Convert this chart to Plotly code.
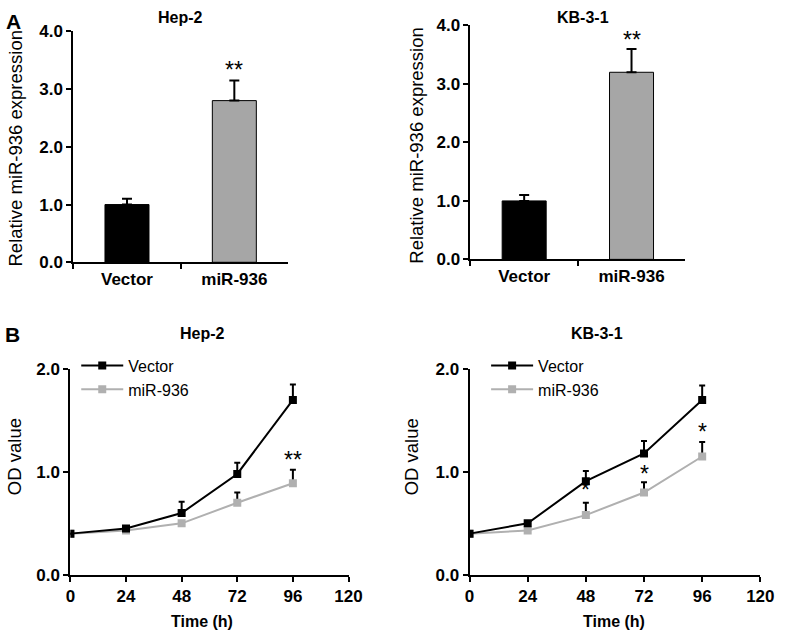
import plotly.graph_objects as go

W, H = 788, 643

# ---------------- data ----------------
groups = ["Vector", "miR-936"]
hep2_expr = [1.0, 2.8]
hep2_expr_err = [0.10, 0.35]
kb_expr = [1.0, 3.2]
kb_expr_err = [0.10, 0.40]

time_h = [0, 24, 48, 72, 96]
hep2_vec = [0.40, 0.45, 0.60, 0.98, 1.70]
hep2_vec_err = [0.0, 0.02, 0.11, 0.11, 0.15]
hep2_mir = [0.40, 0.43, 0.50, 0.70, 0.89]
hep2_mir_err = [0.0, 0.0, 0.0, 0.10, 0.13]
kb_vec = [0.40, 0.50, 0.91, 1.18, 1.70]
kb_vec_err = [0.0, 0.0, 0.10, 0.12, 0.14]
kb_mir = [0.40, 0.43, 0.58, 0.80, 1.15]
kb_mir_err = [0.0, 0.0, 0.12, 0.10, 0.14]

y_ticks_a = [0, 1, 2, 3, 4]
y_ticks_b = [0, 1, 2]
x_ticks_b = [0, 24, 48, 72, 96, 120]

# star annotations (x, y, text)
stars_a_hep2 = [("miR-936", 3.29, "**")]
stars_a_kb = [("miR-936", 3.72, "**")]
stars_b_hep2 = [(96, 1.10, "**")]
stars_b_kb = [(48, 0.80, "*"), (72, 0.96, "*"), (96, 1.37, "*")]

FONT = "Liberation Sans, Arial, sans-serif"
BLACK = "#000000"
GRAY = "#A6A6A6"
LGRAY = "#B0B0B0"


def px(x):
    return x / W


def py(y):
    return 1 - y / H


fig = go.Figure()

# ---------------- panel A ----------------
for i, (vals, errs) in enumerate([(hep2_expr, hep2_expr_err), (kb_expr, kb_expr_err)]):
    ax = "" if i == 0 else "2"
    fig.add_trace(go.Bar(
        x=groups, y=vals,
        marker=dict(color=[BLACK, GRAY], line=dict(color=BLACK, width=1)),
        width=0.41,
        error_y=dict(type="data", array=errs, arrayminus=[0] * len(errs), symmetric=False,
                     color=BLACK, thickness=2, width=5),
        xaxis="x" + ax, yaxis="y" + ax, showlegend=False,
    ))

# ---------------- panel B ----------------
panels_b = [
    (hep2_vec, hep2_vec_err, hep2_mir, hep2_mir_err, "3", "legend"),
    (kb_vec, kb_vec_err, kb_mir, kb_mir_err, "4", "legend2"),
]
for vec, vec_err, mir, mir_err, ax, lg in panels_b:
    fig.add_trace(go.Scatter(
        x=time_h, y=mir, mode="lines+markers", name="miR-936",
        line=dict(color=LGRAY, width=2),
        marker=dict(symbol="square", size=8, color=LGRAY),
        error_y=dict(type="data", array=mir_err, arrayminus=[0] * 5, symmetric=False,
                     color=BLACK, thickness=2, width=3),
        xaxis="x" + ax, yaxis="y" + ax, legend=lg, legendrank=2,
    ))
    fig.add_trace(go.Scatter(
        x=time_h, y=vec, mode="lines+markers", name="Vector",
        line=dict(color=BLACK, width=2),
        marker=dict(symbol="square", size=8, color=BLACK),
        error_y=dict(type="data", array=vec_err, arrayminus=[0] * 5, symmetric=False,
                     color=BLACK, thickness=2, width=3),
        xaxis="x" + ax, yaxis="y" + ax, legend=lg, legendrank=1,
    ))

tickfont = dict(family=FONT, size=17, color=BLACK, weight="bold")
common_axis = dict(showline=True, linewidth=2, linecolor=BLACK, ticks="outside",
                   ticklen=5, tickwidth=2, tickcolor=BLACK, showgrid=False,
                   zeroline=False, tickfont=tickfont, fixedrange=True)

layout_axes = {}
# A left
layout_axes["xaxis"] = dict(common_axis, domain=[px(70), px(290)], anchor="y",
                            tickson="boundaries", type="category")
layout_axes["yaxis"] = dict(common_axis, domain=[py(261), py(23)], anchor="x",
                            range=[0, 4], tickvals=y_ticks_a,
                            ticktext=[f"{v:.1f}" for v in y_ticks_a])
# A right
layout_axes["xaxis2"] = dict(common_axis, domain=[px(477), px(697)], anchor="y2",
                             tickson="boundaries", type="category")
layout_axes["yaxis2"] = dict(common_axis, domain=[py(258), py(17)], anchor="x2",
                             range=[0, 4], tickvals=y_ticks_a,
                             ticktext=[f"{v:.1f}" for v in y_ticks_a])
# B left
layout_axes["xaxis3"] = dict(common_axis, domain=[px(67), px(352)], anchor="y3",
                             range=[0, 120], tickvals=x_ticks_b)
layout_axes["yaxis3"] = dict(common_axis, domain=[py(583), py(371)], anchor="x3",
                             range=[0, 2], tickvals=y_ticks_b,
                             ticktext=[f"{v:.1f}" for v in y_ticks_b])
# B right
layout_axes["xaxis4"] = dict(common_axis, domain=[px(476), px(774)], anchor="y4",
                             range=[0, 120], tickvals=x_ticks_b)
layout_axes["yaxis4"] = dict(common_axis, domain=[py(583), py(371)], anchor="x4",
                             range=[0, 2], tickvals=y_ticks_b,
                             ticktext=[f"{v:.1f}" for v in y_ticks_b])

annotations = []


def text_ann(x, y, text, size=16, bold=False, angle=0):
    annotations.append(dict(
        x=px(x), y=py(y), xref="paper", yref="paper", text=text, showarrow=False,
        xanchor="center", yanchor="middle", textangle=angle,
        font=dict(family=FONT, size=size, color=BLACK, weight="bold" if bold else "normal"),
    ))


# panel letters
text_ann(9, 13, "A", size=21, bold=True)
text_ann(8, 335, "B", size=21, bold=True)
# titles
text_ann(180, 9, "Hep-2", size=16, bold=True)
text_ann(592, 9, "KB-3-1", size=16, bold=True)
text_ann(202, 334, "Hep-2", size=16, bold=True)
text_ann(607, 334, "KB-3-1", size=16, bold=True)
# axis titles
text_ann(11, 143, "Relative miR-936 expression", size=18.5, angle=-90)
text_ann(422, 140, "Relative miR-936 expression", size=18.5, angle=-90)
text_ann(10, 461, "OD value", size=18.5, angle=-90)
text_ann(416, 461, "OD value", size=18.5, angle=-90)
text_ann(202, 631, "Time (h)", size=16, bold=True)
text_ann(624, 631, "Time (h)", size=16, bold=True)

# significance stars
for stars, ax in [(stars_a_hep2, ""), (stars_a_kb, "2"), (stars_b_hep2, "3"), (stars_b_kb, "4")]:
    for x, y, t in stars:
        annotations.append(dict(
            x=x, y=y, xref="x" + ax, yref="y" + ax, text=t, showarrow=False,
            xanchor="center", yanchor="middle", yshift=2,
            font=dict(family=FONT, size=23, color=BLACK),
        ))

legend_common = dict(font=dict(family=FONT, size=16, color=BLACK), bgcolor="rgba(0,0,0,0)",
                     xanchor="left", yanchor="top", tracegroupgap=0, traceorder="normal",
                     itemwidth=42)

fig.update_layout(
    width=W, height=H,
    margin=dict(l=0, r=0, t=0, b=0),
    paper_bgcolor="white", plot_bgcolor="white",
    barmode="group",
    annotations=annotations,
    legend=dict(legend_common, x=px(73), y=py(350)),
    legend2=dict(legend_common, x=px(493), y=py(350)),
    **layout_axes,
)

fig.write_html("out.html", config={"displayModeBar": False},
               post_script="document.body.style.margin='0';")
